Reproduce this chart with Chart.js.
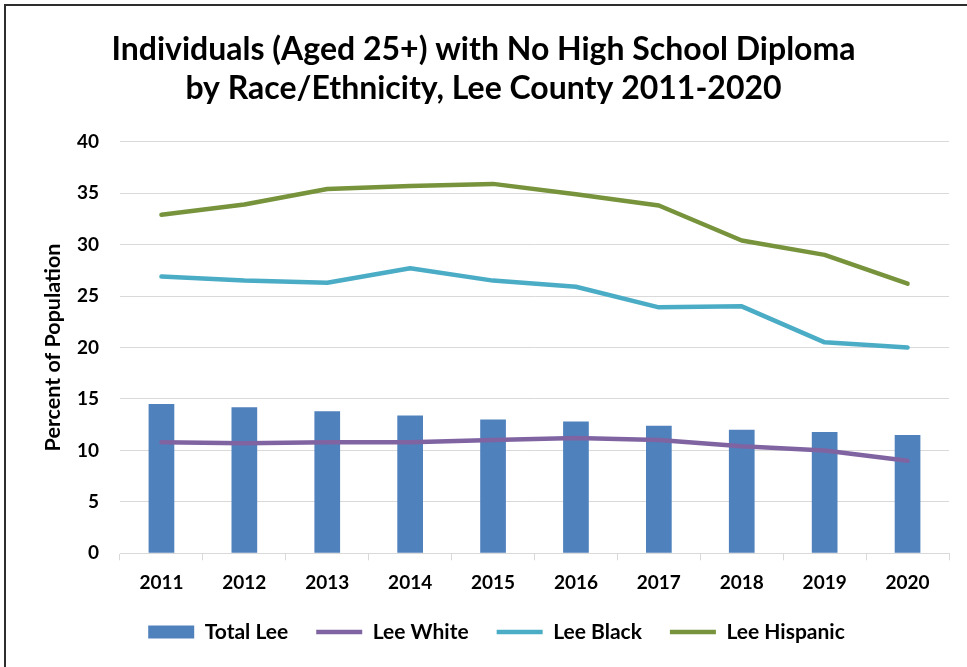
<!DOCTYPE html>
<html>
<head>
<meta charset="utf-8">
<script src="https://cdn.jsdelivr.net/npm/chart.js@4.4.1/dist/chart.umd.min.js"></script>
<style>
  html, body { margin: 0; padding: 0; background: #fff; overflow: hidden; }
  #wrap { position: relative; width: 967px; height: 667px; }
  #frame {
    position: absolute; left: 4px; top: 4px; width: 1200px; height: 900px;
    border-left: 2px solid #2e2e2e; border-top: 2px solid #2e2e2e;
    pointer-events: none;
  }
</style>
</head>
<body>
<div id="wrap">
  <canvas id="chart" width="967" height="667"></canvas>
  <div id="frame"></div>
</div>
<script>
const years = ['2011', '2012', '2013', '2014', '2015', '2016', '2017', '2018', '2019', '2020'];
const totalLee = [14.5, 14.2, 13.8, 13.4, 13.0, 12.8, 12.4, 12.0, 11.8, 11.5];
const leeWhite = [10.8, 10.7, 10.8, 10.8, 11.0, 11.2, 11.0, 10.4, 10.0, 9.0];
const leeBlack = [26.9, 26.5, 26.3, 27.7, 26.5, 25.9, 23.9, 24.0, 20.5, 20.0];
const leeHispanic = [32.9, 33.9, 35.4, 35.7, 35.9, 34.9, 33.8, 30.4, 29.0, 26.2];

const FONT = "Lato, 'Open Sans', sans-serif";
const gridGray = '#d9d9d9';

function lineSet(label, data, color) {
    return {
        type: 'line',
        label: label,
        data: data,
        borderColor: color,
        backgroundColor: color,
        borderWidth: 4.5,
        borderCapStyle: 'round',
        borderJoinStyle: 'round',
        pointRadius: 0,
        pointStyle: 'line',
        tension: 0,
        order: 0
    };
}

// legend sits a bit right of centre in the original
const legendShift = {
    id: 'legendShift',
    afterLayout(chart) {
        if (chart.legend) {
            chart.legend.left += 13;
            chart.legend.right += 13;
        }
    }
};

new Chart(document.getElementById('chart'), {
    type: 'bar',
    data: {
        labels: years,
        datasets: [
            {
                label: 'Total Lee',
                data: totalLee,
                backgroundColor: '#4f81bd',
                borderWidth: 0,
                barPercentage: 0.62,
                categoryPercentage: 0.5,
                pointStyle: 'rect',
                order: 1
            },
            lineSet('Lee White', leeWhite, '#8064a2'),
            lineSet('Lee Black', leeBlack, '#4bacc6'),
            lineSet('Lee Hispanic', leeHispanic, '#77933c')
        ]
    },
    plugins: [legendShift],
    options: {
        responsive: false,
        animation: false,
        layout: { padding: { left: 0, right: 0, top: 0, bottom: 14.5 } },
        plugins: {
            title: {
                display: true,
                text: ['Individuals (Aged 25+) with No High School Diploma', 'by Race/Ethnicity, Lee County 2011-2020'],
                color: '#000',
                font: { family: FONT, size: 32, weight: 'bold', lineHeight: 39 / 32 },
                padding: { top: 30, bottom: 33.7 }
            },
            legend: {
                position: 'bottom',
                labels: {
                    usePointStyle: true,
                    pointStyleWidth: 46,
                    boxHeight: 13,
                    padding: 28,
                    color: '#000',
                    font: { family: FONT, size: 21, weight: 'bold' },
                    sort: (a, b) => a.datasetIndex - b.datasetIndex
                }
            },
            tooltip: { enabled: false }
        },
        scales: {
            x: {
                grid: {
                    display: true,
                    drawOnChartArea: false,
                    drawTicks: true,
                    tickLength: 7,
                    color: gridGray,
                    offset: true
                },
                border: { display: true, color: gridGray },
                ticks: {
                    color: '#000',
                    padding: 11,
                    font: { family: FONT, size: 19, weight: 'bold' }
                },
                afterFit: (axis) => { axis.height = 40.2; }
            },
            y: {
                min: 0,
                max: 40,
                ticks: {
                    stepSize: 5,
                    color: '#000',
                    padding: 21,
                    font: { family: FONT, size: 19, weight: 'bold' }
                },
                grid: { color: gridGray, lineWidth: 1, drawTicks: false },
                border: { display: false },
                title: {
                    display: true,
                    text: 'Percent of Population',
                    color: '#000',
                    font: { family: FONT, size: 21.5, weight: 'bold' },
                    padding: { top: 40, bottom: 0 }
                },
                afterFit: (axis) => { axis.width = 120; }
            },
            spacer: {
                position: 'right',
                display: true,
                grid: { display: false },
                border: { display: false },
                ticks: { display: false },
                afterFit: (axis) => { axis.width = 18; }
            }
        }
    }
});
</script>
</body>
</html>
